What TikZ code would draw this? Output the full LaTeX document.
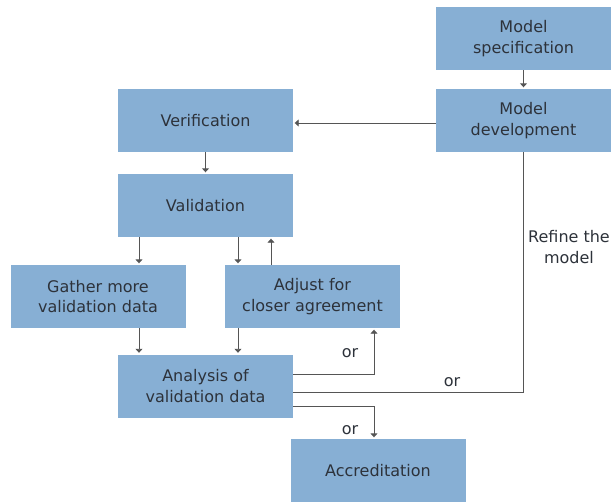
\documentclass[tikz,border=0pt]{standalone}
\usepackage{fontspec}
\setmainfont{DejaVu Sans}
\usetikzlibrary{arrows.meta}
\definecolor{boxblue}{RGB}{135,175,212}
\definecolor{txt}{RGB}{45,50,58}
\definecolor{wire}{RGB}{85,85,85}
\begin{document}
\begin{tikzpicture}[x=1pt,y=-1pt,
  blk/.style={fill=boxblue,draw=none,minimum width=175pt,minimum height=63pt,
    align=center,text=txt,font=\fontsize{16}{20.5}\selectfont,inner sep=0pt},
  lbl/.style={text=txt,font=\fontsize{16}{20.5}\selectfont,align=center,inner sep=0pt},
  wireline/.style={draw=wire,line width=0.9pt},
  arr/.style={wireline,-{Triangle[width=7pt,length=4pt]},shorten >=1.5pt}]
\useasboundingbox (0,0) rectangle (612,503);
% boxes
\node[blk] (spec)   at (523.5,38.5)  {Model\\specification};
\node[blk] (dev)    at (523.5,120.5) {Model\\development};
\node[blk] (verif)  at (205.5,120.5) {Verification};
\node[blk] (valid)  at (205.5,205.5) {Validation};
\node[blk] (gather) at (98,296.5)    {Gather more\\validation data};
\node[blk] (adjust) at (312.5,296.5) {Adjust for\\closer agreement};
\node[blk] (anal)   at (205.5,386)   {Analysis of\\validation data};
\node[blk] (accr)   at (378,470.5)   {Accreditation};
% vertical wire positions
\coordinate (xa) at (139,0);
\coordinate (xb) at (238,0);
\coordinate (xc) at (271,0);
\coordinate (xd) at (374,0);
\coordinate (ya) at (0,123);
\coordinate (yb) at (0,374);
\coordinate (yc) at (0,392);
\coordinate (yd) at (0,406);
% connectors
\draw[arr] (spec.south) -- (dev.north);
\draw[arr] (dev.west |- ya) -- (verif.east |- ya);
\draw[arr] (verif.south) -- (valid.north);
\draw[arr] (valid.south -| xa) -- (gather.north -| xa);
\draw[arr] (valid.south -| xb) -- (adjust.north -| xb);
\draw[arr] (adjust.north -| xc) -- (valid.south -| xc);
\draw[arr] (gather.south -| xa) -- (anal.north -| xa);
\draw[arr] (adjust.south -| xb) -- (anal.north -| xb);
\draw[arr] (anal.east |- yb) -| (adjust.south -| xd);
\draw[wireline] (anal.east |- yc) -| (dev.south);
\draw[arr] (anal.east |- yd) -| (accr.north -| xd);
% labels
\node[lbl] (or1) at (350,353) {or};
\node[lbl] (or2) at (452,382) {or};
\node[lbl] (or3) at (350,430) {or};
\node[lbl] (refine) at (569,247) {Refine the\\model};
\end{tikzpicture}
\end{document}
